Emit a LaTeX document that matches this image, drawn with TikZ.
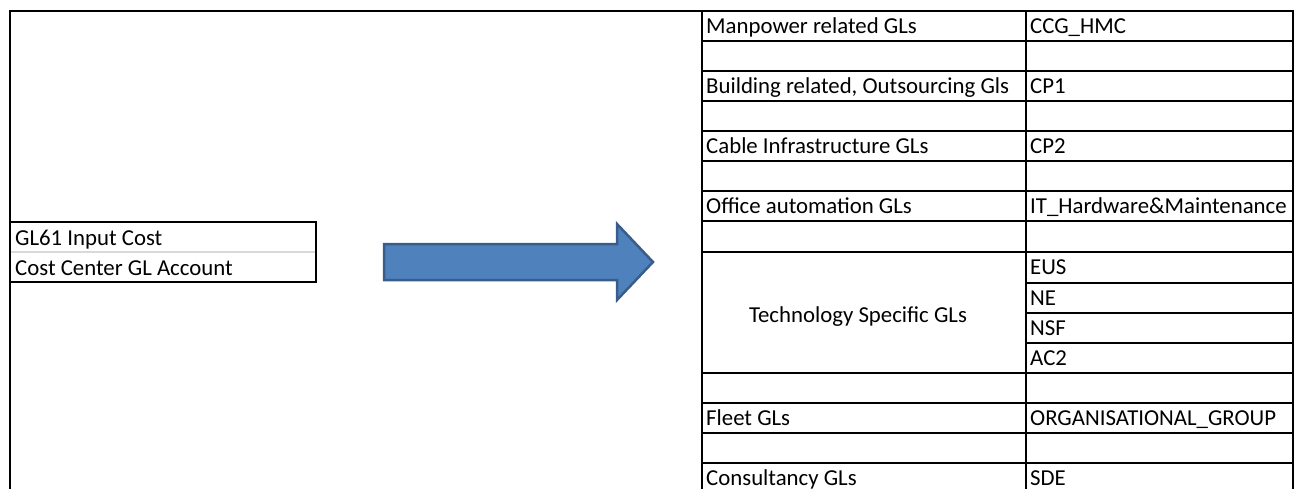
\documentclass[tikz,border=0pt]{standalone}
\usepackage{fontspec}
\setmainfont{Carlito}
\definecolor{arrowblue}{HTML}{4F81BD}
\definecolor{arrowedge}{HTML}{385D8A}

\begin{document}
\begin{tikzpicture}[x=1pt,y=-1pt,line width=2.4pt,line cap=rect,
    cell/.style={anchor=base west,inner sep=0pt},
    font=\fontsize{22.8}{26}\selectfont]
  \useasboundingbox (0,0) rectangle (1297,489);
  \draw (10,489) -- (10,11) -- (1293,11);
  \draw (10,222) rectangle (316,282);
  \draw[black!15,line width=1.5pt,line cap=butt] (11,252) -- (315,252);
  \node(inp)  [cell] at (14,245.5) {GL61 Input Cost};
  \node(acct) [cell] at (14,275.5) {Cost Center GL Account};
  \draw[fill=arrowblue,draw=arrowedge,line width=2.5pt,line cap=butt,line join=miter]
    (384,244) -- (617,244) -- (617,224) -- (653,262) -- (617,300) -- (617,280) -- (384,280) -- cycle;
  \foreach \x in {702,1026,1293} \draw (\x,11) -- (\x,489);
  \foreach \y in {41,71,101,131,161,191,221,252,373,403,433,463} \draw (702,\y) -- (1293,\y);
  \foreach \y in {283,313,343} \draw[line width=1.8pt] (1026,\y) -- (1293,\y);
  \node(man)   [cell] at (705,33.5)  {Manpower related GLs};
  \node(ccg)   [cell] at (1029,33.5) {CCG\_HMC};
  \node(bld)   [cell] at (705,93.5)  {Building related, Outsourcing Gls};
  \node(cp1)   [cell] at (1029,93.5) {CP1};
  \node(cab)   [cell] at (705,153.5) {Cable Infrastructure GLs};
  \node(cp2)   [cell] at (1029,153.5){CP2};
  \node(off)   [cell] at (705,213.5) {Office automation GLs};
  \node(ithw)  [cell] at (1029,213.5){IT\_Hardware\&Maintenance};
  \node(tech)  [anchor=base,inner sep=0pt] at (858,322) {Technology Specific GLs};
  \node(eus)   [cell] at (1029,274.5){EUS};
  \node(ne)    [cell] at (1029,305)  {NE};
  \node(nsf)   [cell] at (1029,335)  {NSF};
  \node(ac2)   [cell] at (1029,365.5){AC2};
  \node(flt)   [cell] at (705,425.5) {Fleet GLs};
  \node(org)   [cell] at (1029,425.5){ORGANISATIONAL\_GROUP};
  \node(cons)  [cell] at (705,485.5) {Consultancy GLs};
  \node(sde)   [cell] at (1029,485.5){SDE};
\end{tikzpicture}
\end{document}
